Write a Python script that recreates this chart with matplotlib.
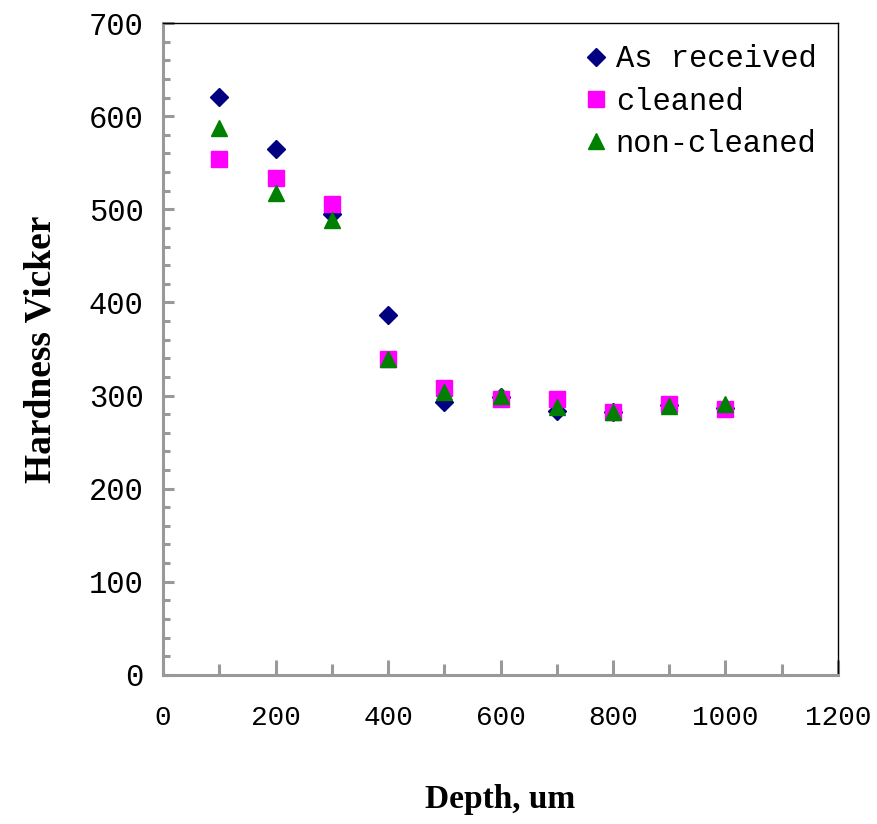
import matplotlib
matplotlib.use('Agg')
import matplotlib.pyplot as plt
from matplotlib.ticker import MultipleLocator

# Hardness profile data
depth = [100, 200, 300, 400, 500, 600, 700, 800, 900, 1000]
as_received = [621, 565, 495, 386, 293, 298, 283, 282, 290, 287]
cleaned = [554, 534, 506, 339, 308, 296, 296, 282, 291, 286]
non_cleaned = [587, 518, 489, 339, 304, 299, 288, 282, 289, 291]

fig = plt.figure(figsize=(8.77, 8.24), dpi=100)
ax = fig.add_axes([0.186, 0.181, 0.7695, 0.791])

ax.plot(depth, as_received, linestyle='none', marker='D', markersize=9.5,
        color='#000080', label='As received')
ax.plot(depth, cleaned, linestyle='none', marker='s', markersize=11.5,
        color='#FF00FF', label='cleaned')
ax.plot(depth, non_cleaned, linestyle='none', marker='^', markersize=11.5,
        color='#008000', label='non-cleaned')

ax.set_xlim(0, 1200)
ax.set_ylim(0, 700)
ax.xaxis.set_major_locator(MultipleLocator(200))
ax.xaxis.set_minor_locator(MultipleLocator(100))
ax.yaxis.set_major_locator(MultipleLocator(100))
ax.yaxis.set_minor_locator(MultipleLocator(20))

grey = '#999999'
for s in ['left', 'bottom']:
    ax.spines[s].set_color(grey)
    ax.spines[s].set_linewidth(2.2)
for s in ['top', 'right']:
    ax.spines[s].set_color('black')
    ax.spines[s].set_linewidth(1)

ax.tick_params(axis='both', which='both', direction='in', color=grey, width=2.2)
ax.tick_params(axis='x', which='major', length=11, pad=22)
ax.tick_params(axis='x', which='minor', length=8)
ax.tick_params(axis='y', which='major', length=8, pad=14)
ax.tick_params(axis='y', which='minor', length=5)

for lab in ax.get_yticklabels():
    lab.set_family('Liberation Mono')
    lab.set_fontsize(22)
for lab in ax.get_xticklabels():
    lab.set_family('Liberation Mono')
    lab.set_fontsize(20)

ax.set_xlabel('Depth, um', family='Liberation Serif', weight='bold',
              fontsize=24, labelpad=38)
ax.set_ylabel('Hardness Vicker', family='Liberation Serif', weight='bold',
              fontsize=27, labelpad=22)

leg = ax.legend(loc='upper right', frameon=False, prop={'family': 'Liberation Mono', 'size': 22},
                handlelength=0.6, handletextpad=0.35, labelspacing=0.4,
                borderaxespad=0.3)

fig.savefig('out.png', dpi=100)
